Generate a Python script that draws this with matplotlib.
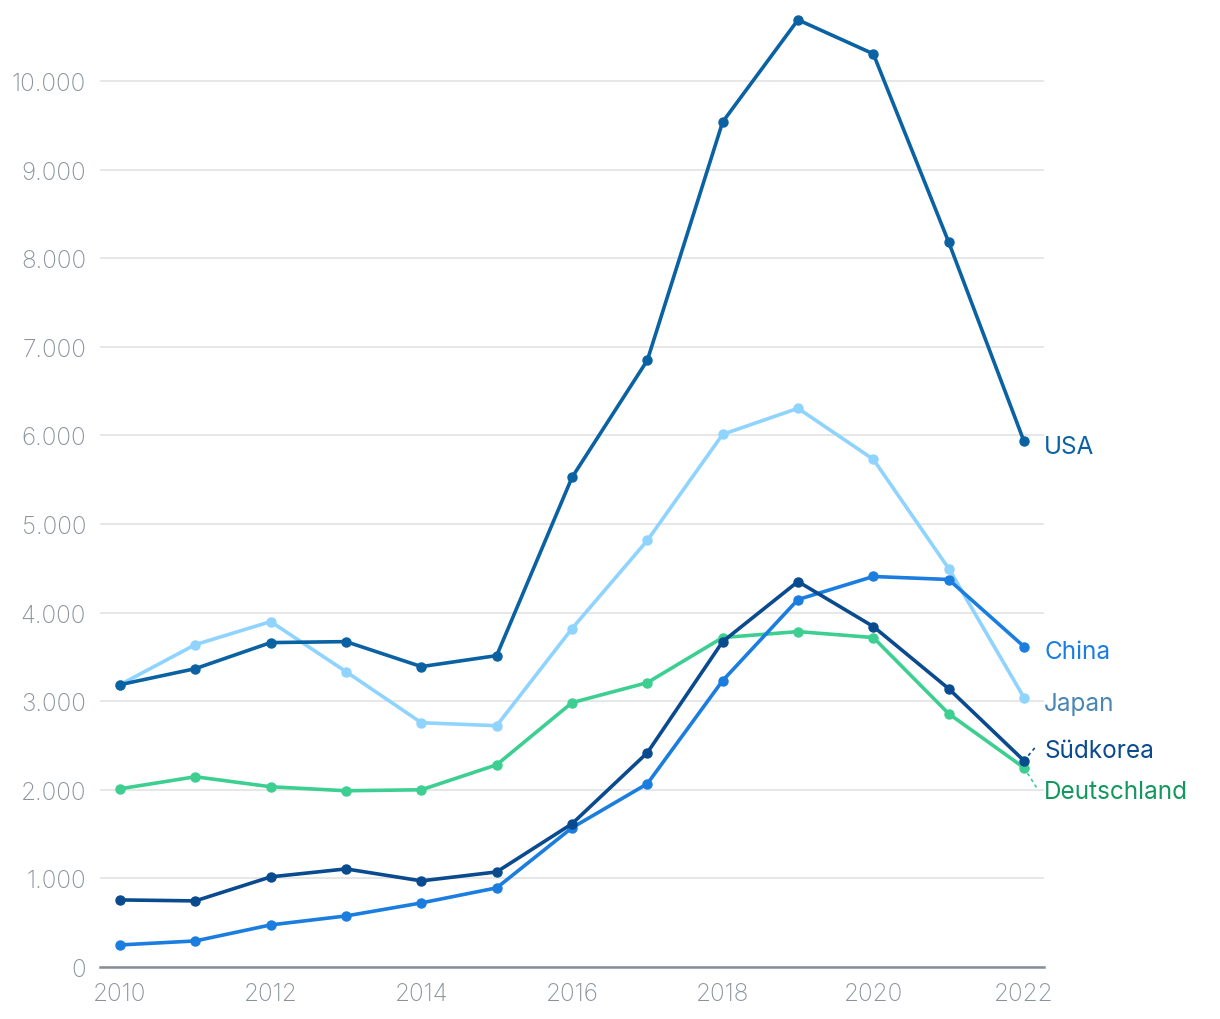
import matplotlib.pyplot as plt
from matplotlib.ticker import FuncFormatter

plt.rcParams['font.family'] = ['Inter', 'DejaVu Sans']
plt.rcParams['font.weight'] = 'light'

years = list(range(2010, 2023))
usa = [3186, 3367, 3661, 3672, 3390, 3514, 5525, 6847, 9537, 10689, 10305, 8181, 5932]
japan = [3186, 3638, 3898, 3333, 2757, 2723, 3819, 4814, 6011, 6305, 5729, 4497, 3040]
china = [249, 294, 475, 576, 723, 893, 1571, 2068, 3232, 4147, 4407, 4373, 3616]
korea = [757, 746, 1017, 1107, 972, 1073, 1616, 2418, 3672, 4350, 3842, 3141, 2328]
germany = [2011, 2147, 2034, 1989, 2000, 2282, 2983, 3209, 3718, 3785, 3718, 2859, 2249]

# (name, values, line colour, label colour, label y)
series = [
    ("Japan", japan, "#8fd3ff", "#4a86b4", 2972),
    ("USA", usa, "#0a62a3", "#0a62a3", 5876),
    ("Deutschland", germany, "#3ccf91", "#12975f", 1977),
    ("China", china, "#1a7ddf", "#1a7ddf", 3559),
    ("Südkorea", korea, "#0a4a8e", "#0a4a8e", 2441),
]

fig = plt.figure(figsize=(12.2, 10.2), dpi=100)
ax = fig.add_axes([100 / 1220, 52 / 1020, 944 / 1220, 957 / 1020])

for name, vals, col, lcol, ly in series:
    ax.plot(years, vals, color=col, linewidth=2.6, marker="o", markersize=6.5,
            solid_capstyle="round", zorder=3)
    ax.text(2022.27, ly, name, color=lcol, fontsize=17.5, fontweight="normal",
            va="center", ha="left")

# kleine gestrichelte Verbinder zu den Labels
ax.plot([2022, 2022.17], [korea[-1], 2500], color="#0a4a8e", linewidth=1.2,
        linestyle=(0, (2, 2)), clip_on=False)
ax.plot([2022, 2022.17], [germany[-1], 2020], color="#3ccf91", linewidth=1.2,
        linestyle=(0, (2, 2)), clip_on=False)

ax.set_xlim(2010 - 20 / 75.33, 2022 + 20 / 75.33)
ax.set_ylim(0, 10800)
ax.set_yticks(range(0, 10001, 1000))
ax.set_xticks(range(2010, 2023, 2))
ax.yaxis.set_major_formatter(FuncFormatter(lambda v, p: f"{int(v):,}".replace(",", ".")))

ax.grid(axis="y", color="#e3e3e3", linewidth=1.2, zorder=0)
ax.set_axisbelow(True)
for s in ["top", "right", "left"]:
    ax.spines[s].set_visible(False)
ax.spines["bottom"].set_color("#868e96")
ax.spines["bottom"].set_linewidth(1.8)
ax.tick_params(axis="both", length=0, labelsize=17.5, colors="#8a939c")
ax.tick_params(axis="y", pad=10)
ax.tick_params(axis="x", pad=11)

fig.savefig("out.png", dpi=100)
